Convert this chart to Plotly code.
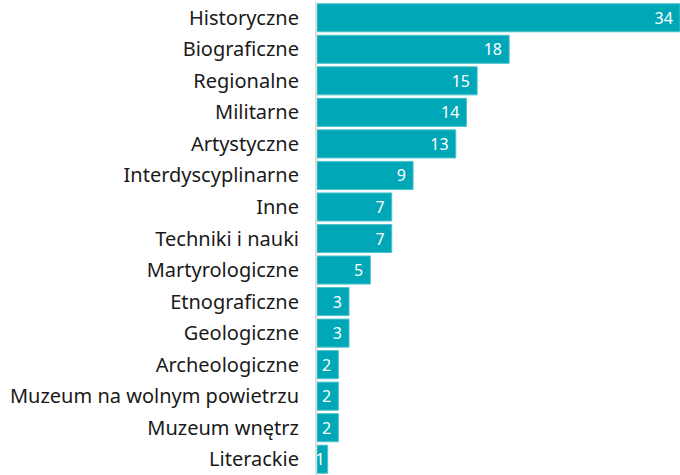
import plotly.graph_objects as go

categories = ["Historyczne", "Biograficzne", "Regionalne", "Militarne", "Artystyczne",
              "Interdyscyplinarne", "Inne", "Techniki i nauki", "Martyrologiczne",
              "Etnograficzne", "Geologiczne", "Archeologiczne",
              "Muzeum na wolnym powietrzu", "Muzeum wnętrz", "Literackie"]
values = [34, 18, 15, 14, 13, 9, 7, 7, 5, 3, 3, 2, 2, 2, 1]

labels = [f"{v}\u00a0" if v > 1 else str(v) for v in values]

fig = go.Figure(go.Bar(
    x=values, y=categories, orientation="h",
    marker=dict(color="#00a8b7", line=dict(color="#4cc3cd", width=1)),
    text=labels, textposition="inside",
    insidetextanchor="end",
    textfont=dict(color="white", size=16, family="Noto Sans"),
    cliponaxis=False,
))
fig.update_layout(
    width=680, height=475,
    margin=dict(l=317, r=0, t=2, b=0),
    paper_bgcolor="white", plot_bgcolor="white",
    bargap=0.11,
    showlegend=False,
    uniformtext=dict(minsize=16, mode="show"),
    font=dict(family="Noto Sans", color="#1a1a1a"),
    xaxis=dict(range=[0, 34], visible=False, fixedrange=True),
    yaxis=dict(autorange="reversed", showline=True, linecolor="#dddddd", linewidth=2,
               showgrid=False, ticks="", ticklabelstandoff=12, fixedrange=True,
               tickfont=dict(size=20, color="#1a1a1a", family="Noto Sans")),
)
fig.write_html("out.html", config={"displayModeBar": False},
               post_script="document.body.style.margin='0';document.body.style.overflow='hidden';")
